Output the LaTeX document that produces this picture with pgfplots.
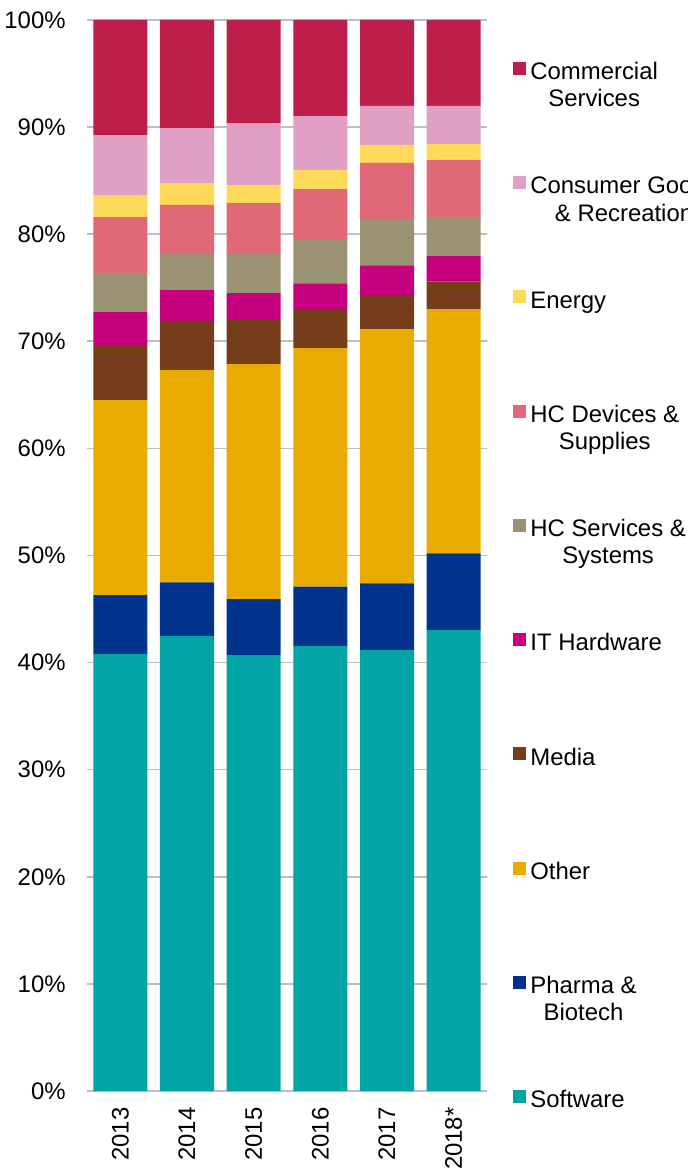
\documentclass[border=0pt]{standalone}
\usepackage{pgfplots}
\usepackage{pgfplotstable}
\pgfplotsset{compat=1.18}
\usepackage{fontspec}
\setmainfont{Liberation Sans}

\definecolor{commercial}{RGB}{190,30,74}
\definecolor{consumer}{RGB}{225,159,195}
\definecolor{energy}{RGB}{255,217,90}
\definecolor{hcdev}{RGB}{225,104,119}
\definecolor{hcserv}{RGB}{155,145,115}
\definecolor{ithw}{RGB}{199,0,128}
\definecolor{media}{RGB}{117,61,26}
\definecolor{other}{RGB}{234,171,0}
\definecolor{pharma}{RGB}{0,51,141}
\definecolor{software}{RGB}{0,164,164}
\definecolor{gridgray}{RGB}{191,191,191}

% share of deals by sector, per cent
\pgfplotstableread{
year Software Pharma Other Media IT HCServ HCDev Energy Consumer Commercial
0 40.79 5.51 18.20 5.15 3.08 3.64 5.23 2.05 5.61 10.74
1 42.46 5.04 19.80 4.60 2.88 3.36 4.59 2.05 5.12 10.10
2 40.69 5.23 21.95 4.12 2.51 3.74 4.67 1.68 5.78 9.63
3 41.53 5.57 22.26 3.64 2.40 4.15 4.65 1.80 5.03 8.97
4 41.16 6.24 23.74 3.16 2.80 4.32 5.23 1.68 3.64 8.03
5 43.03 7.17 22.80 2.60 2.36 3.64 5.32 1.50 3.55 8.03
}\datatable

\begin{document}
\begin{tikzpicture}
\useasboundingbox (-43.5bp,-38.5bp) rectangle (300.5bp,545.5bp);
\clip (-43.5bp,-38.5bp) rectangle (300.5bp,545.5bp);
\begin{axis}[
    at={(0,0)}, anchor=south west,
    scale only axis,
    width=200bp, height=535.5bp,
    ybar stacked, bar width=27bp,
    xmin=-0.5, xmax=5.5, ymin=0, ymax=100,
    enlargelimits=false,
    xtick={0,1,2,3,4,5},
    xticklabels={2013,2014,2015,2016,2017,2018*},
    ytick={0,10,...,100},
    yticklabels={0\%,10\%,20\%,30\%,40\%,50\%,60\%,70\%,80\%,90\%,100\%},
    /pgf/number format/assume math mode=true,
    major tick length=0pt,
    axis line style={draw=none},
    ymajorgrids,
    grid style={draw=gridgray, line width=0.8bp},
    tick label style={font=\fontsize{12}{13.6}\selectfont, black},
    yticklabel style={inner sep=0pt, xshift=-10.5bp},
    xticklabel style={yshift=-8bp, rotate=90, anchor=east, inner sep=0pt},
    reverse legend,
    legend style={
        at={(1.065,0.966)}, anchor=north west,
        draw=none, fill=none, inner sep=0pt,
        row sep=28.6bp,
        font=\fontsize{12}{13.6}\selectfont,
        cells={anchor=west, align=center, inner xsep=2bp, inner ysep=0pt},
    },
    legend image code/.code={\fill[#1] (0bp,5.15bp) rectangle (6.5bp,11.65bp);},
]
\addplot[fill=software, draw=none] table[x=year, y=Software] {\datatable};
\addlegendentry{{\strut Software\\\strut}}
\addplot[fill=pharma, draw=none] table[x=year, y=Pharma] {\datatable};
\addlegendentry{{\strut Pharma \&\\\strut Biotech}}
\addplot[fill=other, draw=none] table[x=year, y=Other] {\datatable};
\addlegendentry{{\strut Other\\\strut}}
\addplot[fill=media, draw=none] table[x=year, y=Media] {\datatable};
\addlegendentry{{\strut Media\\\strut}}
\addplot[fill=ithw, draw=none] table[x=year, y=IT] {\datatable};
\addlegendentry{{\strut IT Hardware\\\strut}}
\addplot[fill=hcserv, draw=none] table[x=year, y=HCServ] {\datatable};
\addlegendentry{{\strut HC Services \&\\\strut Systems}}
\addplot[fill=hcdev, draw=none] table[x=year, y=HCDev] {\datatable};
\addlegendentry{{\strut HC Devices \&\\\strut Supplies}}
\addplot[fill=energy, draw=none] table[x=year, y=Energy] {\datatable};
\addlegendentry{{\strut Energy\\\strut}}
\addplot[fill=consumer, draw=none] table[x=year, y=Consumer] {\datatable};
\addlegendentry{{\strut Consumer Goods\\\strut \& Recreation}}
\addplot[fill=commercial, draw=none] table[x=year, y=Commercial] {\datatable};
\addlegendentry{{\strut Commercial\\\strut Services}}
\end{axis}
\end{tikzpicture}
\end{document}
